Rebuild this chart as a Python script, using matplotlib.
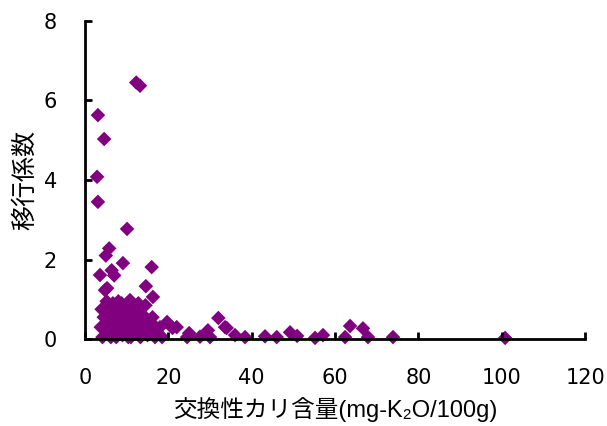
import matplotlib
matplotlib.use("Agg")
import matplotlib.pyplot as plt

plt.rcParams['font.family'] = ['Liberation Sans', 'Noto Sans CJK JP', 'DejaVu Sans']

# 交換性カリ含量 (mg-K2O/100g) と 移行係数
kalium = [12.3, 13.2, 3.1, 4.6, 2.9, 3.1, 10.1, 5.0, 5.8, 9.1, 16.0, 3.6, 6.4, 7.0,
          14.6, 4.8, 5.3, 16.3, 10.8, 4.8, 6.7,
          4.0, 4.5, 5.0, 5.5, 5.2, 6.0, 6.5, 6.8, 7.0, 7.5, 7.8, 8.2, 8.5, 8.8, 9.0,
          9.5, 9.8, 10.0, 10.5, 11.0, 11.5, 11.8, 12.0, 12.5, 13.0, 13.3, 13.8, 14.0,
          14.5, 15.0, 15.3, 15.8, 16.2, 16.8, 17.0, 17.5, 18.0, 18.5, 19.7, 6.2, 8.0,
          12.8, 3.8, 4.2, 5.8, 7.2, 9.3, 11.2, 12.2, 14.8, 8.6, 10.4, 6.0,
          21.0, 22.0, 24.5, 25.0, 27.6, 29.5, 30.0, 32.0, 33.6, 34.0, 36.0, 38.4,
          43.2, 46.0, 49.2, 50.9, 55.2, 57.1, 62.4, 63.6, 66.7, 67.9, 73.9, 100.8]
ikou = [6.45, 6.37, 5.63, 5.03, 4.08, 3.45, 2.77, 2.10, 2.28, 1.91, 1.81, 1.61, 1.73, 1.60,
        1.33, 1.23, 1.28, 1.06, 0.98, 0.78, 0.90,
        0.75, 0.55, 0.35, 0.15, 0.95, 0.85, 0.60, 0.40, 0.20, 0.05, 0.75, 0.50, 0.30, 0.90, 0.10,
        0.65, 0.45, 0.25, 0.80, 0.05, 0.55, 0.35, 0.15, 0.70, 0.45, 0.05, 0.25, 0.60,
        0.85, 0.10, 0.40, 0.20, 0.55, 0.05, 0.30, 0.15, 0.30, 0.05, 0.43, 0.05, 0.95,
        0.90, 0.30, 0.05, 0.55, 0.30, 0.40, 0.30, 0.60, 0.35, 0.15, 0.05, 0.70,
        0.28, 0.30, 0.05, 0.15, 0.06, 0.22, 0.05, 0.53, 0.30, 0.28, 0.10, 0.05,
        0.07, 0.05, 0.17, 0.08, 0.03, 0.10, 0.05, 0.33, 0.27, 0.05, 0.05, 0.03]

fig = plt.figure(figsize=(6.07, 4.26), dpi=100)
ax = fig.add_axes([0.14, 0.204, 0.824, 0.747])
ax.scatter(kalium, ikou, marker="D", s=55, color="#800080", edgecolors="none", clip_on=False)

ax.set_xlim(0, 120)
ax.set_ylim(0, 8)
ax.set_xticks(range(0, 121, 20))
ax.set_yticks(range(0, 9, 2))
for s in ["top", "right"]:
    ax.spines[s].set_visible(False)
for s in ["left", "bottom"]:
    ax.spines[s].set_linewidth(2)
ax.tick_params(direction="in", length=5, width=2, labelsize=15)
for lbl in ax.get_xticklabels() + ax.get_yticklabels():
    lbl.set_family("DejaVu Sans")
ax.tick_params(axis="y", pad=20)
ax.tick_params(axis="x", pad=21)

ax.set_xlabel("交換性カリ含量(mg-K₂O/100g)", fontsize=17, labelpad=6)
ax.set_ylabel("移行係数", fontsize=18, labelpad=5)

fig.savefig("out.png", dpi=100)
